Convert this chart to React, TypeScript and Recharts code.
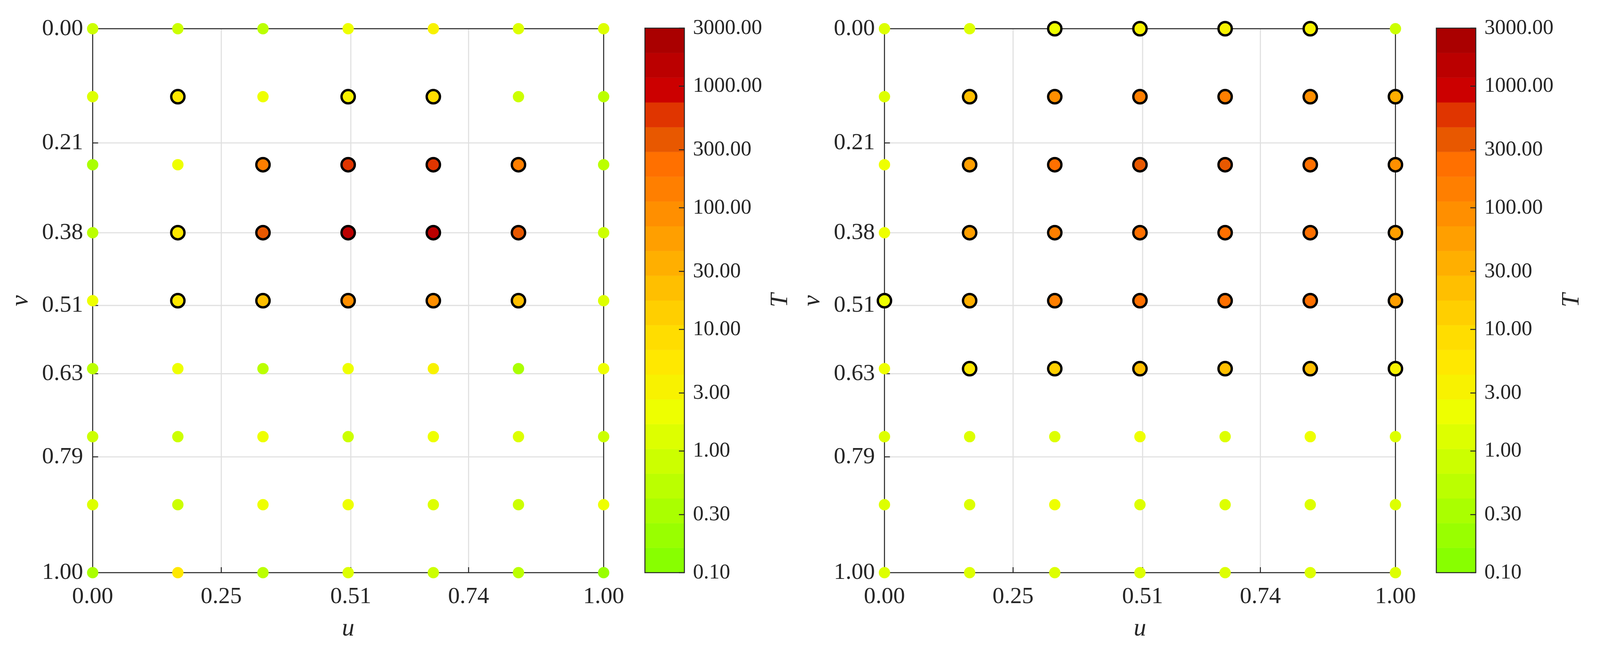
import React from 'react';
import { ScatterChart, ComposedChart, Scatter, XAxis, YAxis, CartesianGrid, ReferenceArea, ReferenceLine, Label } from 'recharts';

const FONT = '"Liberation Serif", serif';
const INK = '#262626';

// The reference is 4360 wide; a narrower browser window gets the same layout, compressed horizontally.
const REF_WIDTH = 4360;
const SX = Math.min(1, window.innerWidth / REF_WIDTH);
const X = (n: number) => n * SX;

const U_GRID = [0, 0.1667, 0.3333, 0.5, 0.6667, 0.8333, 1];
const V_GRID = [0, 0.125, 0.25, 0.375, 0.5, 0.625, 0.75, 0.875, 1];
const U_TICKS = [0, 0.2517, 0.5052, 0.7357, 1];
const V_TICKS = [0, 0.21, 0.3752, 0.5088, 0.6343, 0.7871, 1];
const T_TICKS = [0.1, 0.3, 1, 3, 10, 30, 100, 300, 1000, 3000];

const BAND_EDGES = [0.1, 0.1598, 0.2554, 0.4079, 0.6518, 1.0412, 1.6638, 2.6577, 4.2471, 6.785, 10.84, 17.32, 27.67, 44.21, 70.65, 112.9, 180.4, 288.2, 460.4, 735.6, 1175, 1878, 3000];
const BAND_COLORS = ['#88ff00', '#99ff00', '#aaff00', '#bbff00', '#ccff00', '#ddff00', '#eeff00', '#f8f200', '#ffe800', '#ffdd00', '#ffcf00', '#ffbf00', '#ffaf00', '#ff9f00', '#ff8f00', '#ff7f00', '#ff7000', '#e85800', '#e03500', '#cc0000', '#bb0000', '#aa0000'];

const T_LEFT = [
  [0.82, 0.82, 0.5, 2.1, 3.4, 1.3, 1.3],
  [1.3, 5.4, 2.1, 3.4, 8.6, 0.82, 0.5],
  [0.32, 2.1, 142, 582, 582, 142, 0.5],
  [0.5, 5.4, 364, 1480, 1480, 364, 0.82],
  [2.1, 5.4, 22, 89, 89, 22, 1.3],
  [0.5, 2.1, 0.5, 2.1, 3.4, 0.32, 2.1],
  [0.82, 0.82, 2.1, 0.82, 2.1, 1.3, 0.82],
  [1.3, 0.82, 2.1, 2.1, 1.3, 0.82, 2.1],
  [0.32, 5.4, 0.5, 1.3, 0.82, 0.5, 0.2],
];
const RING_LEFT = [
  [0, 0, 0, 0, 0, 0, 0],
  [0, 1, 0, 1, 1, 0, 0],
  [0, 0, 1, 1, 1, 1, 0],
  [0, 1, 1, 1, 1, 1, 0],
  [0, 1, 1, 1, 1, 1, 0],
  [0, 0, 0, 0, 0, 0, 0],
  [0, 0, 0, 0, 0, 0, 0],
  [0, 0, 0, 0, 0, 0, 0],
  [0, 0, 0, 0, 0, 0, 0],
];
const T_RIGHT = [
  [1.3, 1.3, 2.1, 3.4, 3.4, 3.4, 0.82],
  [1.3, 22, 89, 142, 142, 89, 35],
  [2.1, 56, 228, 364, 364, 228, 89],
  [2.1, 56, 142, 228, 228, 228, 56],
  [2.1, 35, 142, 228, 228, 228, 56],
  [2.1, 5.4, 13.7, 22, 22, 22, 3.4],
  [1.3, 1.3, 1.3, 2.1, 1.3, 2.1, 1.3],
  [1.3, 1.3, 2.1, 1.3, 1.3, 1.3, 1.3],
  [1.3, 1.3, 1.3, 1.3, 1.3, 1.3, 1.3],
];
const RING_RIGHT = [
  [0, 0, 1, 1, 1, 1, 0],
  [0, 1, 1, 1, 1, 1, 1],
  [0, 1, 1, 1, 1, 1, 1],
  [0, 1, 1, 1, 1, 1, 1],
  [1, 1, 1, 1, 1, 1, 1],
  [0, 1, 1, 1, 1, 1, 1],
  [0, 0, 0, 0, 0, 0, 0],
  [0, 0, 0, 0, 0, 0, 0],
  [0, 0, 0, 0, 0, 0, 0],
];

const colorFor = (t: number) => {
  let i = 0;
  while (i < BAND_COLORS.length - 1 && t >= BAND_EDGES[i + 1]) i++;
  return BAND_COLORS[i];
};

const buildPoints = (temps: number[][], rings: number[][]) =>
  V_GRID.flatMap((v, r) => U_GRID.map((u, c) => ({ u, v, t: temps[r][c], ring: rings[r][c] === 1 })));

const bands = BAND_COLORS.map((color, i) => ({ lo: BAND_EDGES[i], hi: BAND_EDGES[i + 1], color }));

const Dot = (props: any) => {
  const { cx, cy, payload } = props;
  if (cx == null || cy == null) return null;
  return payload.ring ? (
    <circle cx={cx} cy={cy} r={17} fill={colorFor(payload.t)} stroke="#000" strokeWidth={6} />
  ) : (
    <circle cx={cx} cy={cy} r={14.5} fill={colorFor(payload.t)} />
  );
};

const fmt = (n: number) => n.toFixed(2);
const blank = () => '';
const tickStyle = { fill: INK, fontSize: 64 * SX, fontFamily: FONT };
const lineStyle = { stroke: INK, strokeWidth: 2.5 };
const mathText = { fill: INK, fontSize: 68 * SX, fontFamily: FONT, fontStyle: 'italic' } as const;

const Panel = ({ left, temps, rings }: { left: number; temps: number[][]; rings: number[][] }) => (
  <div style={{ position: 'absolute', left: X(left), top: 0 }}>
    <ScatterChart width={X(2157)} height={1664} margin={{ top: 72.5, left: X(12.5), right: X(511), bottom: 28 }}>
      <CartesianGrid stroke="#e0e0e0" strokeWidth={2.8} />
      <XAxis
        dataKey="u" type="number" domain={[0, 1]} ticks={U_TICKS} interval={0} height={170}
        tickFormatter={fmt} tick={tickStyle} tickSize={-14} tickMargin={49}
        tickLine={lineStyle} axisLine={lineStyle}
      >
        <Label content={({ viewBox }: any) => (
          <text x={viewBox.x + viewBox.width / 2} y={1627} textAnchor="middle" {...mathText}>u</text>
        )} />
      </XAxis>
      <YAxis
        dataKey="v" type="number" domain={[0, 1]} reversed ticks={V_TICKS} interval={0} width={X(240)}
        tickFormatter={fmt} tick={{ ...tickStyle, dy: -5 }} tickSize={-14} tickMargin={14 + X(26)}
        tickLine={lineStyle} axisLine={lineStyle}
      >
        <Label content={({ viewBox }: any) => {
          const cy = viewBox.y + viewBox.height / 2;
          return <text transform={`translate(${X(74)} ${cy}) rotate(-90)`} textAnchor="middle" {...mathText}>v</text>;
        }} />
      </YAxis>
      <XAxis
        xAxisId="top" orientation="top" type="number" domain={[0, 1]} ticks={U_TICKS} interval={0} height={1}
        tickFormatter={blank} tickSize={-14} tickLine={lineStyle} axisLine={lineStyle}
      />
      <YAxis
        yAxisId="right" orientation="right" type="number" domain={[0, 1]} reversed ticks={V_TICKS} interval={0} width={1}
        tickFormatter={blank} tickSize={-14} tickLine={lineStyle} axisLine={lineStyle}
      />
      <Scatter data={buildPoints(temps, rings)} dataKey="v" shape={Dot} isAnimationActive={false} />
    </ScatterChart>
  </div>
);

const BAR_WIDTH = 107.6;
const TICK_START = 1 - 14 / X(BAR_WIDTH);

const ColorBar = ({ left }: { left: number }) => (
  <div style={{ position: 'absolute', left: X(left), top: 0 }}>
    <ComposedChart width={X(440)} height={1664} data={bands} margin={{ top: 72, left: X(17), right: X(55.4), bottom: 198 }}>
      <XAxis type="number" dataKey="lo" domain={[0, 1]} allowDataOverflow hide />
      <YAxis
        orientation="right" scale="log" type="number" domain={[0.1, 3000]} allowDataOverflow ticks={T_TICKS} interval={0} width={X(260)}
        tickFormatter={fmt} tick={{ fill: INK, fontSize: 58 * SX, fontFamily: FONT, dy: -4.5 }} tickSize={-14} tickMargin={14 + X(23.4)}
        tickLine={false} axisLine={false}
      >
        <Label content={({ viewBox }: any) => {
          const cy = viewBox.y + viewBox.height / 2;
          return <text transform={`translate(${viewBox.x + X(280)} ${cy}) rotate(-90)`} textAnchor="middle" {...mathText}>T</text>;
        }} />
      </YAxis>
      {bands.map((b) => (
        <ReferenceArea key={b.color} x1={0} x2={1} y1={b.lo} y2={b.hi} fill={b.color} fillOpacity={1} stroke={b.color} strokeWidth={0.6} />
      ))}
      <ReferenceArea x1={0} x2={1} y1={0.1} y2={3000} fill="none" stroke={INK} strokeWidth={2.5} />
      {T_TICKS.map((t) => (
        <ReferenceLine key={t} segment={[{ x: TICK_START, y: t }, { x: 1, y: t }]} stroke={INK} strokeWidth={2.5} />
      ))}
    </ComposedChart>
  </div>
);

export default function App() {
  return (
    <div style={{ position: 'relative', marginLeft: -8, marginTop: -8, marginBottom: -8, width: X(REF_WIDTH), height: 1664, background: '#fff', overflow: 'hidden' }}>
      <Panel left={0} temps={T_LEFT} rings={RING_LEFT} />
      <ColorBar left={1740} />
      <Panel left={2157.5} temps={T_RIGHT} rings={RING_RIGHT} />
      <ColorBar left={3897} />
    </div>
  );
}
